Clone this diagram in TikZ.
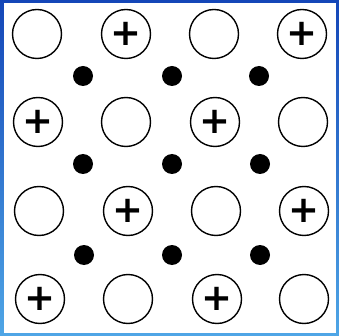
\documentclass[tikz,border=0pt]{standalone}
\usepackage{fontspec}
\newfontfamily\plusfont{DejaVu Sans}
\definecolor{bluedark}{HTML}{1446B8}
\definecolor{bluelight}{HTML}{4FA6E6}
\begin{document}
\begin{tikzpicture}[x=1pt,y=-1pt,
  ion/.style={circle,draw=black,line width=1.4pt,minimum size=49pt,inner sep=0pt,fill=white},
  pion/.style={ion,font=\plusfont\bfseries\fontsize{37}{37}\selectfont},
  electron/.style={circle,fill=black,minimum size=20pt,inner sep=0pt}]
\useasboundingbox (0,0) rectangle (339,336);
\shade[top color=bluedark,bottom color=bluelight] (0,0) rectangle (339,336);
\fill[white] (4,3) rectangle (336,333);
% row 1
\node[ion]  (a1) at (37,34) {};
\node[pion] (a2) at (126,34) {+};
\node[ion]  (a3) at (214,34) {};
\node[pion] (a4) at (302,34) {+};
% row 2
\node[pion] (b1) at (38,122) {+};
\node[ion]  (b2) at (126,122) {};
\node[pion] (b3) at (215,122) {+};
\node[ion]  (b4) at (303,122) {};
% row 3
\node[ion]  (c1) at (39,211) {};
\node[pion] (c2) at (128,211) {+};
\node[ion]  (c3) at (216,211) {};
\node[pion] (c4) at (304,211) {+};
% row 4
\node[pion] (d1) at (40,299) {+};
\node[ion]  (d2) at (128,299) {};
\node[pion] (d3) at (217,299) {+};
\node[ion]  (d4) at (304,299) {};
% electrons
\node[electron] (e11) at (83,76) {};
\node[electron] (e12) at (172,76) {};
\node[electron] (e13) at (259,76) {};
\node[electron] (e21) at (83,164) {};
\node[electron] (e22) at (172,164) {};
\node[electron] (e23) at (260,164) {};
\node[electron] (e31) at (84,255) {};
\node[electron] (e32) at (172,255) {};
\node[electron] (e33) at (260,255) {};
\end{tikzpicture}
\end{document}
